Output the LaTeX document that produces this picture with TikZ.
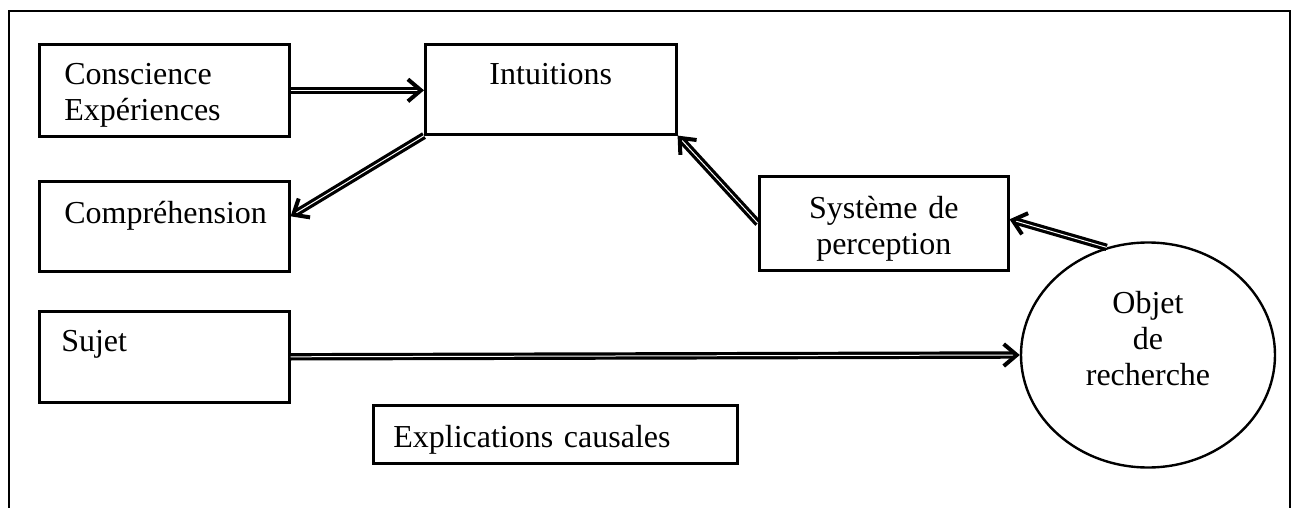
\documentclass[tikz,border=0pt]{standalone}
\usepackage{fontspec}
\setmainfont{Liberation Serif}
\usetikzlibrary{arrows.meta,shapes.geometric}

\begin{document}
\begin{tikzpicture}[
    x=0.5pt, y=-0.5pt,
    box/.style={rectangle, draw, line width=1.3pt, anchor=north west, inner ysep=0pt, font=\fontsize{16}{18}\selectfont},
    oval/.style={ellipse, draw, line width=1.2pt, inner sep=0pt, align=center, font=\fontsize{16}{18}\selectfont},
    link/.style={double, double distance=0.5pt, line width=1.6pt, -{Straight Barb[length=6.5pt, width=11pt, line width=2pt]}}
]
\useasboundingbox (0,0) rectangle (1296,508);

% Frame
\draw[line width=1.2pt] (9,508) -- (9,11) -- (1290,11) -- (1290,508);

% Nodes
\node[box, inner xsep=12.5pt, text width=100pt, align=left, text height=20pt, text depth=26pt] (consc) at (38,43) {Conscience\\Expériences};
\node[box, inner xsep=12.5pt, text width=100.5pt, align=center, text height=20pt, text depth=25pt] (intu) at (424,43) {Intuitions};
\node[box, inner xsep=12.5pt, text width=100pt, align=left, text height=21pt, text depth=24pt] (compr) at (38,180) {Compréhension};
\node[box, inner xsep=12.5pt, text width=99.5pt, align=center, text height=21pt, text depth=26pt] (syst) at (758,175) {Système de\\perception};
\node[box, inner xsep=11pt, text width=103pt, align=left, text height=20pt, text depth=25.5pt] (sujet) at (38,310) {Sujet};
\node[box, inner xsep=10pt, text width=162pt, align=left, text height=21pt, text depth=8pt] (expl) at (372,404) {Explications causales};
\node[oval, minimum width=127pt, minimum height=112.5pt, text width=70pt, text height=10pt, text depth=52pt] (obj) at (1148,355) {Objet\\de\\recherche};

% Edges
\draw[link] (consc.east) -- (consc.east -| intu.west);
\draw[link] (intu.south west) -- ([yshift=5pt]compr.east);
\draw[link] (syst.west) -- (intu.south east);
\draw[link] (obj.111) -- ([yshift=2pt]syst.east);
\draw[link] (sujet.east) -- (obj.west);

\end{tikzpicture}
\end{document}
